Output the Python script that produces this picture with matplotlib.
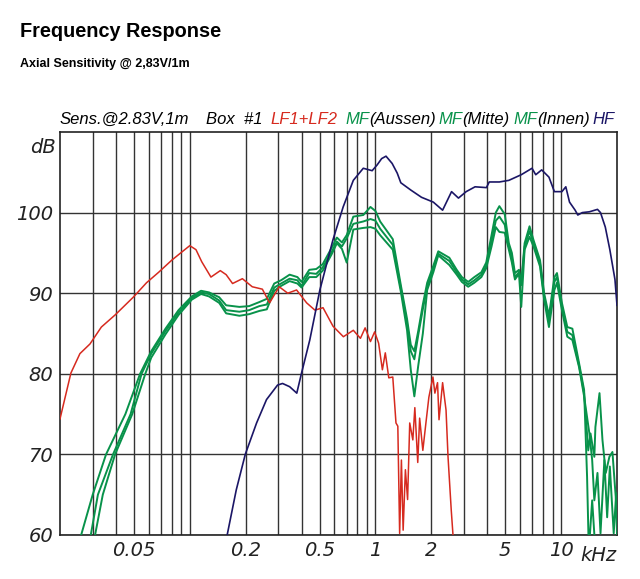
import matplotlib
matplotlib.use('Agg')
import matplotlib.pyplot as plt
from matplotlib import font_manager
from matplotlib.ticker import FixedLocator, FixedFormatter, NullFormatter

# LF1+LF2 (red): frequency in kHz, level in dB
lf_f = [0.020, 0.0229, 0.0256, 0.029, 0.0334, 0.0396, 0.0496, 0.0585, 0.068, 0.080,
        0.0905, 0.100, 0.108, 0.116, 0.130, 0.146, 0.157, 0.170, 0.192, 0.217,
        0.246, 0.269, 0.303, 0.337, 0.376, 0.426, 0.472, 0.522, 0.591, 0.672,
        0.76, 0.83, 0.88, 0.94, 0.99, 1.04, 1.09, 1.13, 1.18, 1.24,
        1.29, 1.32, 1.35, 1.38, 1.41, 1.45, 1.49, 1.53, 1.59, 1.63,
        1.69, 1.73, 1.80, 1.87, 1.94, 2.04, 2.09, 2.16, 2.20, 2.30,
        2.40, 2.46, 2.56, 2.62]
lf_db = [74.4, 80.1, 82.5, 83.7, 85.8, 87.3, 89.5, 91.3, 92.6, 94.1,
         95.1, 95.9, 95.4, 93.9, 92.0, 92.8, 92.3, 91.2, 91.8, 90.8,
         90.5, 88.8, 90.8, 90.0, 90.4, 88.8, 87.9, 88.2, 85.9, 84.6,
         85.4, 84.4, 85.7, 84.0, 85.2, 83.8, 80.5, 82.6, 79.5, 79.6,
         73.9, 73.5, 60.2, 69.3, 60.6, 68.1, 64.4, 73.9, 71.8, 75.8,
         69.0, 74.5, 70.5, 73.9, 77.1, 79.6, 77.6, 78.9, 74.3, 78.9,
         75.5, 69.7, 63.1, 59.8]

# MF curves (green), shared middle frequency grid
mf_f = [0.062, 0.074, 0.087, 0.1025, 0.115, 0.127, 0.144, 0.157, 0.185, 0.209,
        0.237, 0.26, 0.285, 0.31, 0.345, 0.38, 0.40, 0.44, 0.48, 0.52,
        0.58, 0.62, 0.66, 0.70, 0.76, 0.86, 0.94, 1.0, 1.06, 1.24,
        1.37, 1.48, 1.55, 1.62, 1.70, 1.80, 1.9, 2.05, 2.18, 2.5,
        2.74, 2.92, 3.16, 3.41, 3.72, 3.95, 4.22, 4.45, 4.65, 4.97,
        5.23, 5.43, 5.64, 5.93, 6.1, 6.36, 6.76, 7.1, 7.7, 8.1,
        8.6, 9.2, 9.5, 10.1, 10.8, 11.5, 12.5, 13.3]

# MF(Aussen)
ma_start_f = [0.026, 0.030, 0.0354, 0.045, 0.054]
ma_start_db = [60, 65, 70, 75, 80]
ma_db = [82.8, 85.6, 87.9, 89.6, 90.3, 90.1, 89.5, 88.5, 88.3, 88.4,
         88.9, 89.3, 91.2, 91.6, 92.3, 92.0, 91.4, 92.9, 93.0, 93.6,
         95.6, 96.9, 96.3, 97.2, 99.5, 99.7, 100.7, 100.2, 98.9, 96.7,
         91.0, 86.8, 83.6, 82.8, 85.3, 88.6, 91.3, 93.4, 95.2, 94.4,
         92.9, 92.0, 91.4, 92.0, 92.6, 93.8, 97.2, 100.0, 100.8, 99.8,
         96.2, 95.0, 92.5, 92.9, 91.3, 96.2, 98.3, 96.6, 94.1, 90.0,
         87.2, 92.0, 92.5, 88.8, 85.8, 85.6, 81.3, 78.0]
ma_tail_f = [13.8, 14.1, 14.7, 15.3]
ma_tail_db = [67.2, 58.0, 64.3, 58.0]

# MF(Mitte)
mm_start_f = [0.0293, 0.032, 0.0386, 0.048, 0.055]
mm_start_db = [60, 65, 70, 75, 80]
mm_db = [82.5, 85.3, 87.6, 89.4, 90.1, 89.9, 89.1, 87.9, 87.7, 87.9,
         88.4, 88.6, 90.7, 91.2, 91.8, 91.6, 90.9, 92.5, 92.4, 93.2,
         95.1, 96.4, 95.8, 96.8, 98.6, 98.9, 99.2, 99.0, 98.0, 96.0,
         90.6, 86.2, 82.8, 81.8, 84.8, 88.0, 90.8, 93.0, 94.9, 94.0,
         92.6, 91.7, 91.1, 91.6, 92.3, 93.4, 96.5, 99.0, 99.5, 98.5,
         95.8, 94.3, 92.0, 92.6, 91.0, 95.8, 97.7, 96.2, 93.7, 89.6,
         86.5, 91.4, 92.0, 88.3, 85.2, 84.8, 81.0, 77.6]
mm_tail_f = [14.0, 14.4, 15.1, 15.3, 16.1, 16.7, 17.4, 18.2, 18.9, 19.5, 20.0]
mm_tail_db = [70.5, 72.6, 69.7, 73.4, 77.6, 71.8, 67.7, 69.7, 70.3, 66.0, 62.7]

# MF(Innen)
mi_start_f = [0.0309, 0.034, 0.0396, 0.049, 0.0576]
mi_start_db = [60, 65, 70, 75, 80]
mi_db = [82.0, 84.9, 87.3, 89.2, 89.9, 89.6, 88.8, 87.5, 87.2, 87.4,
         87.8, 88.0, 90.3, 90.9, 91.5, 91.2, 90.7, 92.0, 92.0, 92.8,
         94.8, 96.2, 95.5, 93.8, 97.9, 98.1, 98.2, 98.0, 97.2, 95.4,
         90.2, 85.4, 80.5, 77.2, 81.0, 85.0, 90.4, 92.6, 94.7, 93.5,
         92.3, 91.4, 90.8, 91.3, 92.0, 93.1, 95.8, 98.2, 97.6, 97.5,
         95.4, 93.8, 91.7, 92.4, 88.3, 95.4, 97.0, 95.8, 93.3, 89.2,
         85.8, 90.4, 91.3, 87.9, 84.6, 84.2, 80.8, 77.2]
mi_tail_f = [14.2, 14.7, 15.1, 15.7, 16.3, 17.1, 17.7, 18.3, 19.2, 19.8, 20.0]
mi_tail_db = [72.6, 69.3, 64.3, 67.7, 60.2, 69.3, 62.2, 68.5, 60.2, 65.2, 60.0]

# HF (navy)
hf_f = [0.159, 0.178, 0.199, 0.229, 0.259, 0.297, 0.316, 0.345, 0.377, 0.40,
        0.443, 0.502, 0.59, 0.67, 0.76, 0.86, 0.96, 1.02, 1.08, 1.14,
        1.23, 1.31, 1.37, 1.55, 1.77, 2.05, 2.30, 2.57, 2.8, 3.08,
        3.44, 3.96, 4.1, 4.65, 5.23, 6.1, 6.97, 7.3, 7.86, 8.6,
        9.2, 10.1, 10.6, 11.1, 11.9, 12.3, 13.0, 14.2, 15.7, 16.3,
        17.3, 18.3, 19.5, 20.0]
hf_db = [60.0, 65.6, 70.0, 73.9, 76.8, 78.6, 78.8, 78.4, 77.6, 80.1,
         84.2, 90.4, 96.6, 100.7, 104.0, 105.5, 105.2, 105.9, 106.7, 107.0,
         106.1, 104.9, 103.7, 102.8, 101.9, 101.3, 100.3, 102.6, 101.8, 102.6,
         103.2, 103.1, 103.8, 103.8, 104.0, 104.7, 105.5, 104.7, 105.3, 104.4,
         102.6, 102.6, 103.2, 101.3, 100.3, 99.7, 100.0, 100.1, 100.4, 100.0,
         98.2, 95.4, 91.7, 88.5]

major_ticks = [0.05, 0.2, 0.5, 1, 2, 5, 10]
major_labels = ['0.05', '0.2', '0.5', '1', '2', '5', '10']
minor_ticks = [0.03, 0.04, 0.06, 0.07, 0.08, 0.09, 0.1, 0.3, 0.4, 0.6, 0.7, 0.8, 0.9,
               3, 4, 6, 7, 8, 9]
y_ticks = [60, 70, 80, 90, 100]

RED = '#d62a1f'
GREEN = '#08924a'
NAVY = '#1b1666'
GRID = '#333333'

fig = plt.figure(figsize=(6.4, 5.79), dpi=100)
ax = fig.add_axes([60 / 640, 1 - 535 / 579, 557 / 640, 403 / 579])

for sf, sd, md, tf, td in [(ma_start_f, ma_start_db, ma_db, ma_tail_f, ma_tail_db),
                           (mm_start_f, mm_start_db, mm_db, mm_tail_f, mm_tail_db),
                           (mi_start_f, mi_start_db, mi_db, mi_tail_f, mi_tail_db)]:
    ax.plot(sf + mf_f + tf, sd + md + td, color=GREEN, lw=1.4, zorder=3)
ax.plot(lf_f, lf_db, color=RED, lw=1.1, zorder=4)
ax.plot(hf_f, hf_db, color=NAVY, lw=1.2, zorder=5)

ax.set_xscale('log')
ax.set_xlim(0.02, 20)
ax.set_ylim(60, 110)
ax.xaxis.set_major_locator(FixedLocator(major_ticks))
ax.xaxis.set_major_formatter(FixedFormatter(major_labels))
ax.xaxis.set_minor_locator(FixedLocator(minor_ticks))
ax.xaxis.set_minor_formatter(NullFormatter())
ax.set_yticks(y_ticks)
ax.grid(True, which='both', axis='x', color=GRID, lw=1.0)
ax.grid(True, which='major', axis='y', color=GRID, lw=1.0)
ax.set_axisbelow(True)
ax.tick_params(which='both', length=0)
ax.tick_params(axis='x', pad=4)
ax.tick_params(axis='y', pad=5)
for lab in ax.get_xticklabels() + ax.get_yticklabels():
    lab.set_fontsize(14)
    lab.set_fontstyle('italic')
    lab.set_color('#222222')
for sp in ax.spines.values():
    sp.set_color('#222222')
    sp.set_linewidth(1.2)

ax.text(-0.008, 0.985, 'dB', transform=ax.transAxes, ha='right', va='top',
        fontsize=14, style='italic', color='#222222')
ax.text(0.966, -0.027, 'kHz', transform=ax.transAxes, ha='center', va='top',
        fontsize=14, style='italic', color='#222222')

# header line above the plot, narrow italic if available
narrow = [f.fname for f in font_manager.fontManager.ttflist
          if 'LiberationSansNarrow-Italic' in f.fname]
if narrow:
    hfont = dict(fontproperties=font_manager.FontProperties(fname=narrow[0], size=14))
else:
    hfont = dict(fontsize=12, style='italic', family='Liberation Sans')

fig.canvas.draw()
r = fig.canvas.get_renderer()
hy = 1 - 124 / 579


def colored(x, pieces):
    for s, c in pieces:
        t = fig.text(x, hy, s, color=c, va='baseline', ha='left', **hfont)
        x = t.get_window_extent(r).x1 / fig.bbox.width
    return x


colored(60 / 640, [('Sens.@2.83V,1m', 'black')])
colored(206 / 640, [('Box  #1', 'black')])
colored(270 / 640, [('LF1+LF2', RED)])
colored(345 / 640, [('MF', GREEN), ('(Aussen)', 'black')])
colored(438 / 640, [('MF', GREEN), ('(Mitte)', 'black')])
colored(513 / 640, [('MF', GREEN), ('(Innen)', 'black')])
colored(592 / 640, [('HF', NAVY)])

fig.text(20 / 640, 1 - 36.7 / 579, 'Frequency Response', fontsize=14.3,
         fontweight='bold', family='Liberation Sans', va='baseline')
fig.text(20 / 640, 1 - 66.7 / 579, 'Axial Sensitivity @ 2,83V/1m', fontsize=9.0,
         fontweight='bold', family='Liberation Sans', va='baseline')

fig.savefig('out.png', dpi=100)
